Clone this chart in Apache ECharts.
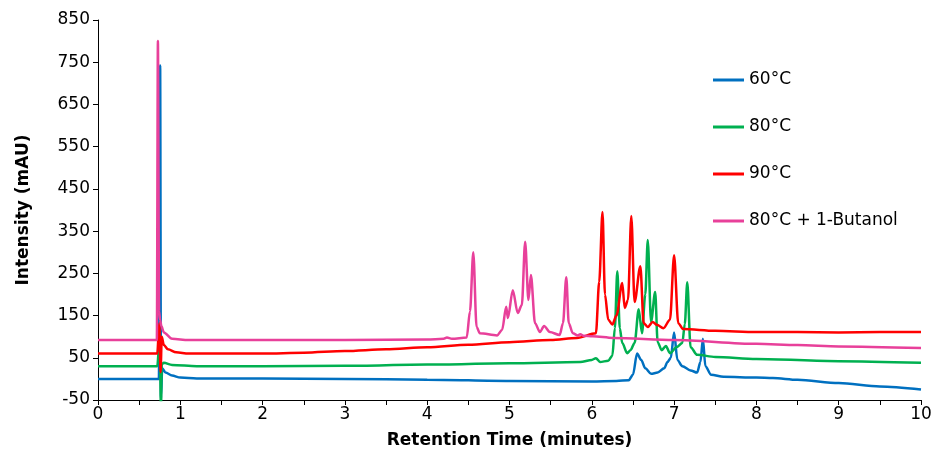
<!DOCTYPE html>
<html>
<head>
<meta charset="utf-8">
<script src="https://cdn.jsdelivr.net/npm/echarts@6/dist/echarts.min.js"></script>
<style>
  html, body { margin: 0; padding: 0; background: #fff; }
  #chart { width: 950px; height: 472px; }
</style>
</head>
<body>
<div id="chart"></div>
<script>
// tick labels
var yTicks = [-50, 50, 150, 250, 350, 450, 550, 650, 750, 850];
var seriesNames = ['60°C', '80°C', '90°C', '80°C + 1-Butanol'];

// 60°C
var t60 = [0, 0.5, 0.7, 0.74, 0.755, 0.765, 0.78, 0.82, 0.9, 1.0, 1.2, 2.0, 3.0, 4.0, 5.0, 6.0, 6.3, 6.45, 6.5, 6.55, 6.6, 6.65, 6.72, 6.8, 6.88, 6.92, 6.96, 7.0, 7.04, 7.1, 7.2, 7.28, 7.32, 7.35, 7.38, 7.45, 7.6, 8.0, 8.2, 8.5, 9.0, 9.5, 10];
var i60 = [0, 0, 0, 0, 742, -45, 25, 15, 8, 3, 1, 1, 0, -2, -5, -6, -5, -3, 10, 60, 45, 25, 12, 15, 25, 40, 50, 110, 45, 30, 20, 15, 40, 95, 30, 10, 5, 3, 2, -2, -10, -18, -25];

// 80°C
var t80 = [0, 0.5, 0.72, 0.75, 0.765, 0.775, 0.8, 0.9, 1.2, 2, 3, 4, 5, 5.86, 6.0, 6.05, 6.1, 6.2, 6.25, 6.28, 6.31, 6.34, 6.37, 6.43, 6.47, 6.52, 6.57, 6.61, 6.65, 6.68, 6.72, 6.77, 6.8, 6.85, 6.9, 6.95, 7.03, 7.1, 7.13, 7.16, 7.2, 7.28, 7.5, 8.0, 9.0, 10];
var i80 = [30, 30, 30, 100, -70, 35, 38, 33, 30, 30, 31, 34, 37, 40, 45, 49, 40, 43, 55, 120, 255, 120, 85, 61, 68, 85, 165, 108, 200, 329, 135, 206, 87, 68, 78, 61, 75, 85, 130, 229, 75, 57, 52, 47, 42, 38];

// 90°C
var t90 = [0, 0.5, 0.72, 0.745, 0.76, 0.775, 0.8, 0.85, 0.95, 1.1, 2.0, 2.5, 3.0, 3.5, 4.0, 4.5, 5.0, 5.5, 5.82, 6.05, 6.09, 6.13, 6.16, 6.2, 6.25, 6.3, 6.37, 6.4, 6.44, 6.48, 6.52, 6.59, 6.63, 6.68, 6.74, 6.79, 6.87, 6.95, 7.0, 7.05, 7.11, 7.5, 8.0, 8.5, 9.0, 9.5, 10];
var i90 = [60, 60, 60, 132, 16, 100, 80, 70, 63, 60, 60, 62, 66, 70, 75, 81, 87, 92, 97, 108, 230, 395, 200, 140, 129, 150, 227, 168, 187, 386, 182, 267, 132, 123, 135, 128, 120, 140, 293, 132, 118, 114, 111, 111, 110, 111, 111];

// 80°C + 1-Butanol
var tBut = [0, 0.5, 0.715, 0.728, 0.742, 0.755, 0.77, 0.8, 0.9, 1.1, 2.0, 3.0, 4.0, 4.2, 4.24, 4.3, 4.48, 4.52, 4.56, 4.6, 4.64, 4.85, 4.91, 4.96, 4.98, 5.04, 5.1, 5.15, 5.19, 5.23, 5.26, 5.31, 5.37, 5.42, 5.49, 5.61, 5.65, 5.69, 5.72, 5.77, 5.83, 5.86, 5.9, 6.01, 6.26, 7.0, 8.0, 8.5, 9.0, 10];
var iBut = [92, 92, 92, 800, 160, 140, 125, 110, 95, 92, 92, 92, 93, 95, 98, 95, 98, 160, 300, 123, 108, 103, 116, 171, 144, 210, 156, 175, 325, 187, 246, 132, 111, 125, 111, 104, 132, 241, 132, 108, 103, 106, 102, 101, 97, 92, 83, 80, 77, 73];

var colors = ['#0070C0', '#00B050', '#FF0000', '#E8409A'];

function pairs(t, v) {
    var out = [];
    for (var k = 0; k < t.length; k++) out.push([t[k], v[k]]);
    return out;
}

var chart = echarts.init(document.getElementById('chart'));
var font = 'DejaVu Sans';

var lineSeries = [pairs(t60, i60), pairs(t80, i80), pairs(t90, i90), pairs(tBut, iBut)].map(function (d, k) {
    return {
        name: seriesNames[k],
        type: 'line',
        data: d,
        showSymbol: false,
        smooth: 0.3,
        smoothMonotone: 'x',
        lineStyle: { width: 2.5, color: colors[k] },
        itemStyle: { color: colors[k] }
    };
});

chart.setOption({
    animation: false,
    backgroundColor: '#fff',
    grid: { left: 98, right: 29, top: 20, bottom: 72 },
    legend: {
        orient: 'vertical',
        left: 713,
        top: 70,
        padding: 0,
        icon: 'rect',
        itemWidth: 31,
        itemHeight: 3,
        itemGap: 27,
        data: seriesNames,
        textStyle: { fontFamily: font, fontSize: 17, color: '#000', lineHeight: 20 }
    },
    xAxis: {
        type: 'value',
        min: 0,
        max: 10,
        interval: 1,
        name: 'Retention Time (minutes)',
        nameLocation: 'middle',
        nameGap: 32,
        nameTextStyle: { fontFamily: font, fontSize: 17, fontWeight: 'bold', color: '#000' },
        axisLine: { show: true, onZero: false, lineStyle: { color: '#000', width: 1 } },
        axisTick: { show: true, length: 5, lineStyle: { color: '#000' } },
        minorTick: { show: true, splitNumber: 2, length: 5, lineStyle: { color: '#000' } },
        axisLabel: { fontFamily: font, fontSize: 17, color: '#000', margin: 6 },
        splitLine: { show: false }
    },
    yAxis: {
        type: 'value',
        min: -50,
        max: 850,
        name: 'Intensity (mAU)',
        nameLocation: 'middle',
        nameGap: 66,
        nameTextStyle: { fontFamily: font, fontSize: 17, fontWeight: 'bold', color: '#000' },
        axisLine: { show: true, lineStyle: { color: '#000', width: 1 } },
        axisTick: { show: true, length: 5, customValues: yTicks, lineStyle: { color: '#000' } },
        axisLabel: { fontFamily: font, fontSize: 17, color: '#000', margin: 8, customValues: yTicks },
        splitLine: { show: false }
    },
    series: lineSeries
});

window.addEventListener('resize', function () { chart.resize(); });
</script>
</body>
</html>
